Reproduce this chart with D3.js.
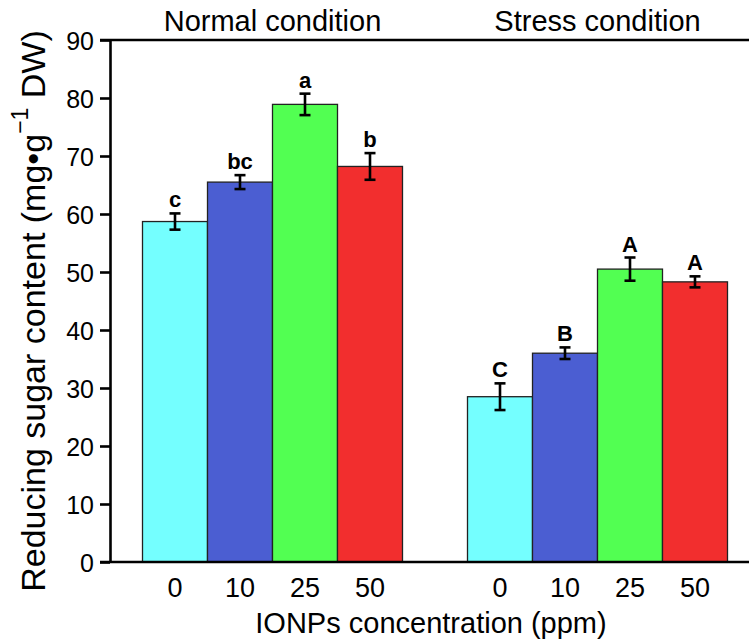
<!DOCTYPE html>
<html>
<head>
<meta charset="utf-8">
<script src="https://cdn.jsdelivr.net/npm/d3@7"></script>
<style>
  body { margin: 0; background: #fff; }
  text { font-family: Arial, "Liberation Sans", sans-serif; fill: #000; }
</style>
</head>
<body>
<div id="chart"></div>
<script>
// data
const conditions = ["Normal condition", "Stress condition"];
const concentrations = ["0", "10", "25", "50"];
const normalValues = [58.7, 65.5, 78.9, 68.2];
const normalErrors = [1.4, 1.2, 1.85, 2.3];
const normalLetters = ["c", "bc", "a", "b"];
const stressValues = [28.5, 36.0, 50.5, 48.3];
const stressErrors = [2.3, 1.0, 2.0, 0.95];
const stressLetters = ["C", "B", "A", "A"];
const yTicks = [0, 10, 20, 30, 40, 50, 60, 70, 80, 90];
const barColors = ["#74ffff", "#4b5ed2", "#52ff52", "#f22e2e"];

const width = 749, height = 642;
const plotLeft = 110, plotRight = 760, plotTop = 40, plotBottom = 562;

const svg = d3.select("#chart").append("svg")
    .attr("width", width)
    .attr("height", height);

const rows = [];
conditions.forEach((c, gi) => {
    const vals = gi === 0 ? normalValues : stressValues;
    const errs = gi === 0 ? normalErrors : stressErrors;
    const lets = gi === 0 ? normalLetters : stressLetters;
    concentrations.forEach((k, i) => {
        rows.push({ cond: c, conc: k, i: i, value: vals[i], err: errs[i], letter: lets[i] });
    });
});

// scales
const x0 = d3.scaleBand()
    .domain(conditions)
    .range([plotLeft, plotRight])
    .paddingInner(0.2)
    .paddingOuter(0.1);

const x1 = d3.scaleBand()
    .domain(concentrations)
    .range([0, x0.bandwidth()]);

const y = d3.scaleLinear()
    .domain([0, 90])
    .range([plotBottom, plotTop]);

// bars
svg.append("g").selectAll("rect")
    .data(rows)
    .enter().append("rect")
    .attr("x", d => x0(d.cond) + x1(d.conc))
    .attr("y", d => y(d.value))
    .attr("width", x1.bandwidth())
    .attr("height", d => y(0) - y(d.value))
    .attr("fill", d => barColors[d.i])
    .attr("stroke", "#222")
    .attr("stroke-width", 1.3);

// error bars
const eb = svg.append("g")
    .attr("stroke", "#000")
    .attr("stroke-width", 2.6);
rows.forEach(d => {
    const cx = x0(d.cond) + x1(d.conc) + x1.bandwidth() / 2;
    eb.append("line").attr("x1", cx).attr("x2", cx)
        .attr("y1", y(d.value + d.err)).attr("y2", y(d.value - d.err));
    eb.append("line").attr("x1", cx - 5.5).attr("x2", cx + 5.5)
        .attr("y1", y(d.value + d.err)).attr("y2", y(d.value + d.err));
    eb.append("line").attr("x1", cx - 5.5).attr("x2", cx + 5.5)
        .attr("y1", y(d.value - d.err)).attr("y2", y(d.value - d.err));
});

// significance letters
svg.append("g").selectAll("text")
    .data(rows)
    .enter().append("text")
    .attr("x", d => x0(d.cond) + x1(d.conc) + x1.bandwidth() / 2)
    .attr("y", d => y(d.value + d.err) - 6)
    .attr("text-anchor", "middle")
    .attr("font-size", "22px")
    .attr("font-weight", "bold")
    .text(d => d.letter);

// y axis
const yAxis = svg.append("g")
    .attr("transform", `translate(${plotLeft},0)`)
    .call(d3.axisLeft(y).tickValues(yTicks).tickSize(10).tickPadding(6).tickSizeOuter(0));
yAxis.select(".domain").attr("stroke-width", 2.6);
yAxis.selectAll(".tick line").attr("stroke-width", 2.6);
yAxis.selectAll(".tick text")
    .attr("font-size", "25px")
    .attr("font-family", "Arial, 'Liberation Sans', sans-serif")
    .attr("dy", "0.36em");

// bottom and top lines
svg.append("line")
    .attr("x1", 100).attr("x2", width)
    .attr("y1", y(0)).attr("y2", y(0))
    .attr("stroke", "#000").attr("stroke-width", 2.6);
svg.append("line")
    .attr("x1", 100).attr("x2", width)
    .attr("y1", y(90)).attr("y2", y(90))
    .attr("stroke", "#000").attr("stroke-width", 2.6);

// x tick labels
svg.append("g").selectAll("text")
    .data(rows)
    .enter().append("text")
    .attr("x", d => x0(d.cond) + x1(d.conc) + x1.bandwidth() / 2)
    .attr("y", 597)
    .attr("text-anchor", "middle")
    .attr("font-size", "27px")
    .text(d => d.conc);

// group titles
svg.append("g").selectAll("text")
    .data(conditions)
    .enter().append("text")
    .attr("x", d => x0(d) + x0.bandwidth() / 2)
    .attr("y", 31)
    .attr("text-anchor", "middle")
    .attr("font-size", "29px")
    .text(d => d);

// x axis title
svg.append("text")
    .attr("x", 431)
    .attr("y", 633)
    .attr("text-anchor", "middle")
    .attr("font-size", "29px")
    .text("IONPs concentration (ppm)");

// y axis title
const yt = svg.append("text")
    .attr("transform", "translate(45,311) rotate(-90)")
    .attr("text-anchor", "middle")
    .attr("font-size", "34px");
yt.append("tspan").text("Reducing sugar content (mg•g");
yt.append("tspan").attr("font-size", "23px").attr("dy", "-0.75em").text("−1");
yt.append("tspan").attr("dy", "0.5em").text(" DW)");
</script>
</body>
</html>
